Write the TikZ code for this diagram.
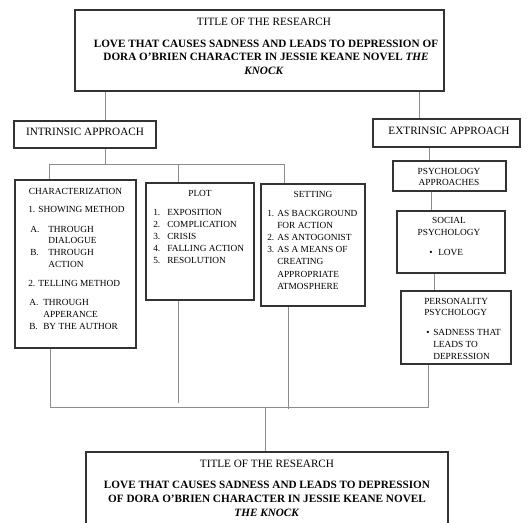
\documentclass[tikz,border=0pt]{standalone}
\usepackage{fontspec}
\setmainfont{Liberation Serif}
\usetikzlibrary{fit}
\tikzset{
  box/.style={draw=black!80, line width=1.1pt, inner sep=0pt},
  conn/.style={draw=black!45, line width=0.7pt},
  tl/.style={inner sep=0pt, text height=5.56pt, text depth=0pt, font=\fontsize{8.4}{10}\selectfont},
  tb/.style={tl, font=\fontsize{8.4}{10}\selectfont\bfseries},
  sl/.style={inner sep=0pt, text height=4.63pt, text depth=0pt, font=\fontsize{7}{9}\selectfont, anchor=west},
  sc/.style={sl, anchor=center},
}
\begin{document}
\begin{tikzpicture}[x=0.75pt,y=-0.75pt]
\useasboundingbox (0,0) rectangle (532,522);
\fill[white] (0,0) rectangle (532,522);
\clip (0,0) rectangle (532,522);

% boxes
\node[box, fit={(75,10) (444,91)}] (top) {};
\node[box, fit={(14,121) (156,148)}] (intr) {};
\node[box, fit={(373,119) (520,147)}] (extr) {};
\node[box, fit={(15,180) (136,348)}] (char) {};
\node[box, fit={(146,183) (254,300)}] (plot) {};
\node[box, fit={(261,184) (365,306)}] (sett) {};
\node[box, fit={(393,161) (506,191)}] (psyap) {};
\node[box, fit={(397,211) (505,273)}] (social) {};
\node[box, fit={(401,291) (511,364)}] (pers) {};
\node[box, fit={(86,452) (448,540)}] (bot) {};

% top title
\node[tl] (t1) at (264,21.5) {TITLE OF THE RESEARCH};
\node[tb] (t2) at (266,43.5) {LOVE THAT CAUSES SADNESS AND LEADS TO DEPRESSION OF};
\node[tb] (t3) at (266,57) {DORA O'BRIEN CHARACTER IN JESSIE KEANE NOVEL \textit{THE}};
\node[tb] (t4) at (264,70.5) {\textit{KNOCK}};

% approaches
\node[tl] (i1) at (85,132) {INTRINSIC APPROACH};
\node[tl] (e1) at (449,131) {EXTRINSIC APPROACH};

% characterization
\node[sc] (c1) at (75.5,191) {CHARACTERIZATION};
\node[sl] (c2) at (28,209) {1. SHOWING METHOD};
\node[sl] (c3a) at (30,229) {A.};
\node[sl] (c3) at (48,229) {THROUGH};
\node[sl] (c4) at (48,240) {DIALOGUE};
\node[sl] (c5a) at (30,252) {B.};
\node[sl] (c5) at (48,252) {THROUGH};
\node[sl] (c6) at (48,264) {ACTION};
\node[sl] (c7) at (28,283) {2. TELLING METHOD};
\node[sl] (c8a) at (29,302) {A.};
\node[sl] (c8) at (43,302) {THROUGH};
\node[sl] (c9) at (43,314) {APPERANCE};
\node[sl] (c10a) at (29,326) {B.};
\node[sl] (c10) at (43,326) {BY THE AUTHOR};

% plot
\node[sc] (p0) at (200,193) {PLOT};
\node[sl] (p1a) at (153,212) {1.};
\node[sl] (p1) at (167,212) {EXPOSITION};
\node[sl] (p2a) at (153,224) {2.};
\node[sl] (p2) at (167,224) {COMPLICATION};
\node[sl] (p3a) at (153,236) {3.};
\node[sl] (p3) at (167,236) {CRISIS};
\node[sl] (p4a) at (153,248) {4.};
\node[sl] (p4) at (167,248) {FALLING ACTION};
\node[sl] (p5a) at (153,260) {5.};
\node[sl] (p5) at (167,260) {RESOLUTION};

% setting
\node[sc] (s0) at (313,194) {SETTING};
\node[sl] (s1) at (267,213) {1. AS BACKGROUND};
\node[sl] (s2) at (277,225) {FOR ACTION};
\node[sl] (s3) at (267,237) {2. AS ANTOGONIST};
\node[sl] (s4) at (267,249) {3. AS A MEANS OF};
\node[sl] (s5) at (277,261) {CREATING};
\node[sl] (s6) at (277,274) {APPROPRIATE};
\node[sl] (s7) at (277,286) {ATMOSPHERE};

% psychology approaches
\node[sc] (a1) at (449,171) {PSYCHOLOGY};
\node[sc] (a2) at (449,182) {APPROACHES};

% social
\node[sc] (so1) at (449,220) {SOCIAL};
\node[sc] (so2) at (449,232) {PSYCHOLOGY};
\node[sl] (so3a) at (429,252) {\textbullet};
\node[sl] (so3) at (438,252) {LOVE};

% personality
\node[sl] (pe1) at (424,301) {PERSONALITY};
\node[sl] (pe2) at (424,312) {PSYCHOLOGY};
\node[sl] (pe3a) at (426,332) {\textbullet};
\node[sl] (pe3) at (433,332) {SADNESS THAT};
\node[sl] (pe4) at (433,344) {LEADS TO};
\node[sl] (pe5) at (433,356) {DEPRESSION};

% bottom title
\node[tl] (b1) at (267,464) {TITLE OF THE RESEARCH};
\node[tb] (b2) at (267,485) {LOVE THAT CAUSES SADNESS AND LEADS TO DEPRESSION};
\node[tb] (b3) at (267,499) {OF DORA O'BRIEN CHARACTER IN JESSIE KEANE NOVEL};
\node[tb] (b4) at (267,512.5) {\textit{THE KNOCK}};

% connectors
\coordinate (xI) at (105,0);
\coordinate (xE) at (419,0);
\coordinate (jI) at (105,164);
\coordinate (jL) at (49,164);
\coordinate (jM) at (178,164);
\coordinate (jR) at (284,164);
\coordinate (xP) at (429,0);
\coordinate (xS) at (431,0);
\coordinate (xQ) at (434,0);
\coordinate (kL) at (50,407);
\coordinate (kP) at (178,403);
\coordinate (kS) at (288,409);
\coordinate (kR) at (428,407);
\coordinate (kB) at (265,407);

\draw[conn] (top.south -| xI) -- (intr.north -| xI);
\draw[conn] (top.south -| xE) -- (extr.north -| xE);
\draw[conn] (intr.south -| jI) -- (jI);
\draw[conn] (char.north -| jL) -- (jL) -- (jR) -- (sett.north -| jR);
\draw[conn] (jM) -- (plot.north -| jM);
\draw[conn] (extr.south -| xP) -- (psyap.north -| xP);
\draw[conn] (psyap.south -| xS) -- (social.north -| xS);
\draw[conn] (social.south -| xQ) -- (pers.north -| xQ);
\draw[conn] (char.south -| kL) -- (kL) -- (kR) -- (pers.south -| kR);
\draw[conn] (plot.south -| kP) -- (kP);
\draw[conn] (sett.south -| kS) -- (kS);
\draw[conn] (kB) -- (bot.north -| kB);
\end{tikzpicture}
\end{document}
